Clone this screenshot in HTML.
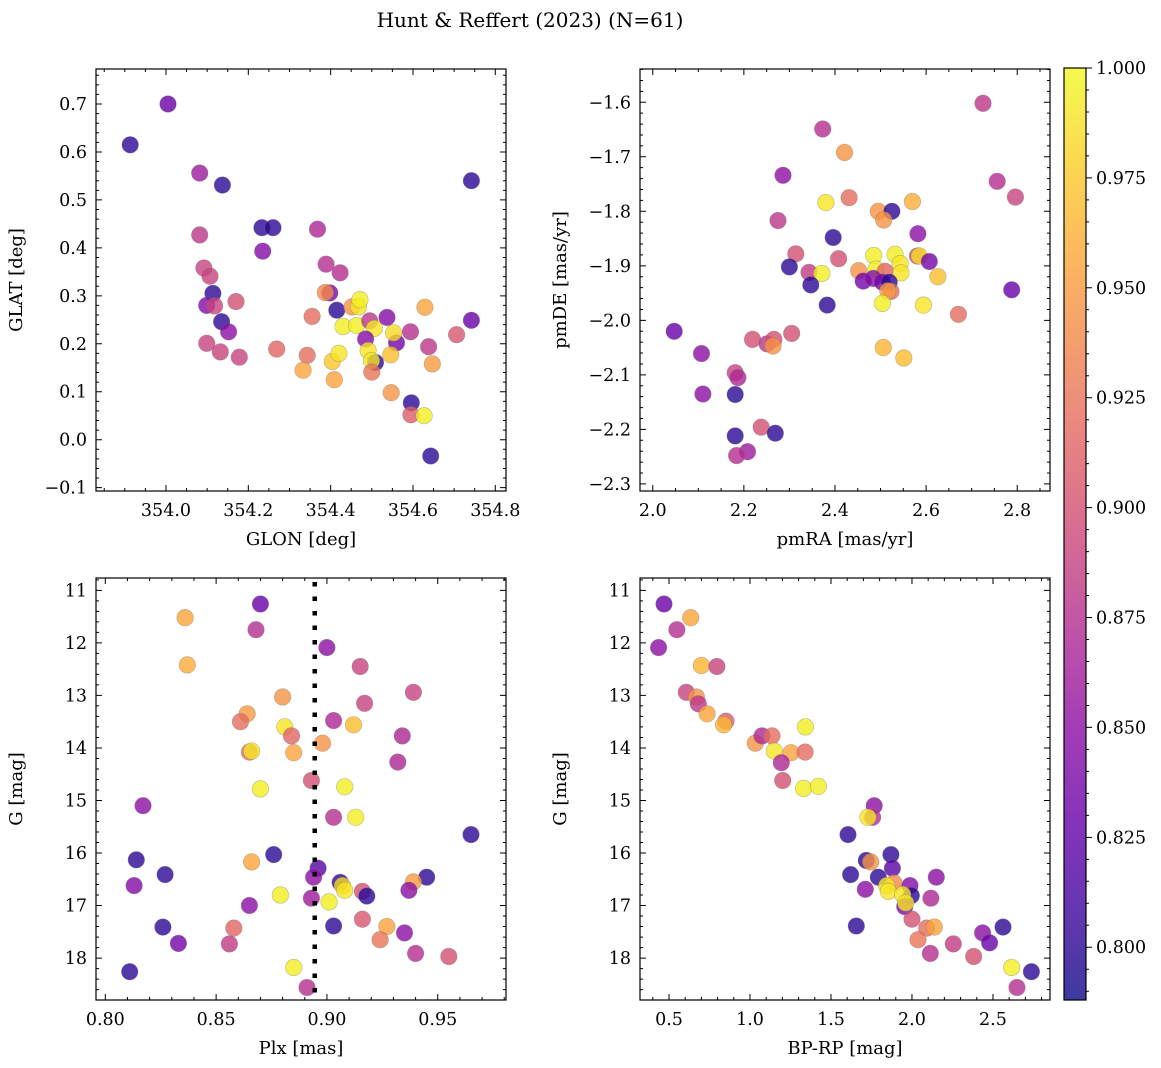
<!DOCTYPE html>
<html><head><meta charset="utf-8"><title>Hunt & Reffert (2023)</title>
<style>
body{margin:0;background:#fff;}
svg{display:block;font-family:"DejaVu Serif","Liberation Serif",serif;}
</style></head>
<body>
<svg id="fig" width="1161" height="1068" viewBox="0 0 1161 1068" xmlns="http://www.w3.org/2000/svg">
<text x="530" y="27" text-anchor="middle" font-size="20">Hunt &amp; Reffert (2023) (N=61)</text>
</svg>
<script>
// ---------- Panel 1: GLON vs GLAT ----------
const glon = [353.913,354.005,354.082,354.137,354.082,354.233,354.260,354.235,354.368,354.092,354.107,354.114,354.099,354.118,354.170,354.135,354.152,354.099,354.132,354.178,354.389,354.423,354.398,354.387,354.415,354.355,354.269,354.343,354.333,354.404,354.420,354.409,354.430,354.452,354.468,354.471,354.463,354.495,354.506,354.485,354.491,354.509,354.499,354.500,354.537,354.560,354.553,354.546,354.547,354.594,354.629,354.638,354.647,354.596,354.595,354.627,354.643,354.706,354.742,354.742];
const glat = [0.615,0.700,0.556,0.531,0.427,0.442,0.442,0.393,0.439,0.358,0.341,0.305,0.280,0.279,0.288,0.246,0.225,0.201,0.183,0.172,0.366,0.348,0.306,0.307,0.270,0.257,0.189,0.176,0.145,0.163,0.180,0.125,0.236,0.277,0.277,0.292,0.238,0.248,0.232,0.210,0.186,0.161,0.165,0.141,0.255,0.202,0.223,0.177,0.098,0.225,0.276,0.194,0.158,0.077,0.052,0.050,-0.034,0.219,0.249,0.540];
const prob1 = [0.80,0.83,0.86,0.80,0.88,0.80,0.80,0.845,0.87,0.89,0.89,0.80,0.845,0.89,0.90,0.80,0.85,0.89,0.89,0.89,0.875,0.875,0.84,0.94,0.80,0.92,0.915,0.92,0.955,0.975,0.99,0.955,0.995,0.945,0.99,0.995,0.995,0.88,0.99,0.845,0.99,0.80,0.99,0.925,0.845,0.835,0.985,0.97,0.945,0.875,0.955,0.88,0.95,0.80,0.91,0.995,0.80,0.905,0.83,0.80];

// ---------- Panel 2: pmRA vs pmDE ----------
const pmra = [2.725,2.373,2.421,2.286,2.756,2.796,2.431,2.380,2.570,2.495,2.525,2.507,2.275,2.582,2.396,2.314,2.408,2.485,2.532,2.581,2.585,2.607,2.543,2.300,2.343,2.371,2.452,2.490,2.510,2.545,2.626,2.462,2.484,2.504,2.519,2.523,2.516,2.347,2.504,2.383,2.594,2.788,2.671,2.047,2.506,2.551,2.107,2.219,2.251,2.266,2.264,2.305,2.181,2.187,2.110,2.181,2.238,2.269,2.181,2.208,2.184];
const pmde = [-1.602,-1.649,-1.692,-1.734,-1.745,-1.774,-1.775,-1.784,-1.782,-1.800,-1.800,-1.816,-1.817,-1.841,-1.848,-1.878,-1.887,-1.881,-1.879,-1.882,-1.882,-1.892,-1.896,-1.902,-1.912,-1.914,-1.909,-1.906,-1.910,-1.913,-1.920,-1.928,-1.923,-1.930,-1.930,-1.947,-1.946,-1.935,-1.969,-1.972,-1.972,-1.944,-1.989,-2.020,-2.050,-2.069,-2.061,-2.035,-2.043,-2.035,-2.047,-2.024,-2.096,-2.105,-2.135,-2.136,-2.196,-2.207,-2.212,-2.241,-2.248];
const prob2 = [0.88,0.875,0.945,0.85,0.875,0.89,0.92,0.99,0.96,0.945,0.80,0.945,0.88,0.85,0.80,0.90,0.90,0.995,0.995,0.90,0.985,0.835,0.99,0.80,0.885,0.995,0.945,0.995,0.915,0.99,0.97,0.835,0.845,0.835,0.80,0.92,0.95,0.80,0.995,0.80,0.99,0.83,0.92,0.83,0.965,0.97,0.85,0.90,0.88,0.90,0.945,0.90,0.89,0.87,0.85,0.80,0.90,0.80,0.80,0.86,0.875];

// ---------- Panel 3: Plx vs G ----------
const plx = [0.870,0.836,0.868,0.837,0.900,0.915,0.939,0.880,0.917,0.864,0.861,0.903,0.881,0.912,0.884,0.934,0.898,0.865,0.866,0.885,0.932,0.893,0.870,0.908,0.817,0.903,0.913,0.965,0.814,0.876,0.866,0.827,0.896,0.894,0.813,0.906,0.907,0.908,0.945,0.939,0.937,0.916,0.918,0.879,0.893,0.901,0.865,0.826,0.858,0.903,0.916,0.927,0.924,0.935,0.833,0.856,0.940,0.955,0.811,0.885,0.891];
const gmag3 = [11.26,11.52,11.75,12.42,12.09,12.45,12.94,13.03,13.15,13.35,13.50,13.48,13.60,13.56,13.77,13.77,13.91,14.08,14.06,14.09,14.27,14.62,14.78,14.74,15.10,15.32,15.32,15.65,16.13,16.03,16.17,16.41,16.29,16.46,16.62,16.56,16.62,16.71,16.46,16.55,16.71,16.73,16.82,16.80,16.86,16.93,17.00,17.41,17.43,17.39,17.26,17.40,17.65,17.52,17.72,17.73,17.91,17.97,18.26,18.18,18.56];
const prob3 = [0.83,0.955,0.875,0.96,0.85,0.89,0.89,0.945,0.89,0.95,0.92,0.87,0.99,0.97,0.915,0.87,0.945,0.92,0.99,0.955,0.87,0.90,0.995,0.995,0.85,0.875,0.995,0.80,0.80,0.80,0.955,0.80,0.82,0.85,0.845,0.80,0.985,0.99,0.80,0.95,0.85,0.90,0.80,0.995,0.86,0.995,0.85,0.80,0.915,0.80,0.905,0.955,0.925,0.85,0.835,0.885,0.875,0.90,0.80,0.995,0.875];

// ---------- Panel 4: BP-RP vs G ----------
const bprp = [0.469,0.634,0.549,0.436,0.700,0.796,0.607,0.669,0.681,0.735,0.852,0.837,1.033,1.074,1.136,1.150,1.253,1.340,1.342,1.193,1.202,1.331,1.422,1.767,1.757,1.728,1.605,1.870,1.718,1.745,1.879,1.621,1.792,2.150,1.889,1.988,1.844,1.854,1.712,1.996,1.942,2.117,1.955,1.961,2.000,1.656,2.091,2.138,2.037,2.255,2.113,2.381,2.436,2.479,2.562,2.615,2.737,2.648];
const gmag4 = [11.26,11.52,11.75,12.09,12.43,12.45,12.94,13.03,13.16,13.35,13.49,13.56,13.91,13.77,13.77,14.06,14.09,14.08,13.60,14.28,14.62,14.77,14.73,15.10,15.32,15.32,15.65,16.03,16.14,16.17,16.29,16.41,16.46,16.46,16.57,16.62,16.62,16.73,16.69,16.81,16.79,16.86,17.02,16.95,17.26,17.39,17.43,17.41,17.65,17.73,17.91,17.97,17.52,17.71,17.41,18.18,18.26,18.56];
const prob4 = [0.83,0.955,0.875,0.85,0.965,0.89,0.89,0.945,0.88,0.955,0.91,0.965,0.945,0.87,0.92,0.99,0.955,0.92,0.995,0.87,0.90,0.995,0.995,0.85,0.875,0.99,0.80,0.80,0.80,0.945,0.82,0.80,0.80,0.85,0.94,0.845,0.99,0.99,0.85,0.80,0.99,0.87,0.84,0.99,0.90,0.80,0.92,0.955,0.925,0.885,0.875,0.90,0.85,0.83,0.80,0.995,0.80,0.875];

// ---------- Colorbar ticks ----------
const cbTicks = [0.800,0.825,0.850,0.875,0.900,0.925,0.950,0.975,1.000];
const CMIN = 0.788, CMAX = 1.0;

const NS = "http://www.w3.org/2000/svg";
const svg = document.getElementById('fig');
function mk(tag, attrs, parent){
  const e = document.createElementNS(NS, tag);
  for (const k in attrs) e.setAttribute(k, attrs[k]);
  (parent||svg).appendChild(e);
  return e;
}
const stops = [[13,8,135],[65,4,157],[106,0,168],[143,13,164],[177,42,144],[204,71,120],[225,100,98],[242,132,75],[252,166,54],[252,206,37],[240,249,33]];
function plasma(t){
  t = Math.max(0, Math.min(1, t));
  const f = t*10, i = Math.min(9, Math.floor(f)), r = f - i;
  const a = stops[i], b = stops[i+1];
  return 'rgb(' + [0,1,2].map(k => Math.round(a[k] + (b[k]-a[k])*r)).join(',') + ')';
}
const TFS = 17.5, LFS = 18;

function panel(cfg){
  const {x0,y0,w,h,xmin,xmax,ymin,ymax,yinv,xmaj,xminor,ymaj,yminor,xfmt,yfmt,xlabel,ylabel,xs,ys,ps,name} = cfg;
  const X = v => x0 + (v - xmin)/(xmax - xmin)*w;
  const Y = v => yinv ? y0 + (v - ymin)/(ymax - ymin)*h : y0 + h - (v - ymin)/(ymax - ymin)*h;
  const g = mk('g', {});
  
  
  const pg = mk('g', {}, g);
  
  
  for (let i = 0; i < xs.length; i++){
    const c = mk('circle', {cx: X(xs[i]).toFixed(1), cy: Y(ys[i]).toFixed(1), r: 8.3, fill: plasma((ps[i]-CMIN)/(CMAX-CMIN)), 'fill-opacity': 0.8, stroke: '#777', 'stroke-opacity': 0.5, 'stroke-width': 0.6}, pg);
    
    
  }
  if (cfg.extra) cfg.extra(g, X, Y);
  const fr = mk('rect', {x: x0, y: y0, width: w, height: h, fill: 'none', stroke: '#000', 'stroke-width': 1.2}, g);
  
  
  const tk = [];
  const eps = 1e-9;
  for (let v = Math.ceil(xmin/xminor - eps)*xminor; v <= xmax + eps; v += xminor){
    const p = X(v); tk.push(`M${p},${y0+h}v-3M${p},${y0}v3`);
  }
  for (let v = Math.ceil(ymin/yminor - eps)*yminor; v <= ymax + eps; v += yminor){
    const p = Y(v); tk.push(`M${x0},${p}h3M${x0+w},${p}h-3`);
  }
  xmaj.forEach(v => {
    const p = X(v); tk.push(`M${p},${y0+h}v-6M${p},${y0}v6`);
    const t = mk('text', {x: p, y: y0 + h + 25, 'text-anchor': 'middle', 'font-size': TFS}, g);
    t.textContent = xfmt(v);
    
    
  });
  ymaj.forEach(v => {
    const p = Y(v); tk.push(`M${x0},${p}h6M${x0+w},${p}h-6`);
    const t = mk('text', {x: x0 - 9, y: p + 6, 'text-anchor': 'end', 'font-size': TFS}, g);
    t.textContent = yfmt(v);
    
    
  });
  const tp = mk('path', {d: tk.join(''), stroke: '#000', 'stroke-width': 1}, g);
  
  
  const xl = mk('text', {x: x0 + w/2, y: y0 + h + 54, 'text-anchor': 'middle', 'font-size': LFS}, g);
  xl.textContent = xlabel;
  
  
  const yx = x0 - 74, yy = y0 + h/2;
  const yl = mk('text', {x: yx, y: yy, 'text-anchor': 'middle', 'font-size': LFS, transform: `rotate(-90 ${yx} ${yy})`}, g);
  yl.textContent = ylabel;
  
  
}
const minus = s => s.replace('-', '\u2212');
const range = (a, b, s) => { const r = []; for (let v = a; v <= b + 1e-9; v += s) r.push(+v.toFixed(6)); return r; };

panel({name: 'glon-glat-panel', x0: 96, y0: 69, w: 410, h: 422, xmin: 353.830, xmax: 354.826, ymin: -0.107, ymax: 0.773,
  xmaj: range(354.0, 354.8, 0.2), xminor: 0.05, ymaj: range(-0.1, 0.7, 0.1), yminor: 0.02,
  xfmt: v => v.toFixed(1), yfmt: v => minus(v.toFixed(1)), xlabel: 'GLON [deg]', ylabel: 'GLAT [deg]', xs: glon, ys: glat, ps: prob1});
panel({name: 'pm-panel', x0: 640, y0: 69, w: 410, h: 422, xmin: 1.972, xmax: 2.872, ymin: -2.313, ymax: -1.539,
  xmaj: range(2.0, 2.8, 0.2), xminor: 0.05, ymaj: range(-2.3, -1.6, 0.1), yminor: 0.02,
  xfmt: v => v.toFixed(1), yfmt: v => minus(v.toFixed(1)), xlabel: 'pmRA [mas/yr]', ylabel: 'pmDE [mas/yr]', xs: pmra, ys: pmde, ps: prob2});
panel({name: 'plx-g-panel', x0: 96, y0: 578, w: 410, h: 422, xmin: 0.7958, xmax: 0.9808, ymin: 10.765, ymax: 18.798, yinv: true,
  xmaj: range(0.80, 0.95, 0.05), xminor: 0.01, ymaj: range(11, 18, 1), yminor: 0.2,
  xfmt: v => v.toFixed(2), yfmt: v => v.toFixed(0), xlabel: 'Plx [mas]', ylabel: 'G [mag]', xs: plx, ys: gmag3, ps: prob3,
  extra: (g, X, Y) => {
    const l = mk('line', {x1: X(0.8945), x2: X(0.8945), y1: 582, y2: 1000, stroke: '#000', 'stroke-width': 4.5, 'stroke-dasharray': '4.5 10'}, g);
    
    
  }});
panel({name: 'cmd-panel', x0: 640, y0: 578, w: 410, h: 422, xmin: 0.321, xmax: 2.852, ymin: 10.765, ymax: 18.798, yinv: true,
  xmaj: range(0.5, 2.5, 0.5), xminor: 0.1, ymaj: range(11, 18, 1), yminor: 0.2,
  xfmt: v => v.toFixed(1), yfmt: v => v.toFixed(0), xlabel: 'BP-RP [mag]', ylabel: 'G [mag]', xs: bprp, ys: gmag4, ps: prob4});

// colorbar
(function(){
  const cx = 1064, cy = 68, cw = 22, ch = 932;
  const g = mk('g', {});
  
  
  const defs = mk('defs', {}, g);
  const lg = mk('linearGradient', {id: 'cbg', x1: 0, y1: 1, x2: 0, y2: 0}, defs);
  for (let i = 0; i <= 20; i++) mk('stop', {offset: i/20, 'stop-color': plasma(i/20), 'stop-opacity': 0.8}, lg);
  const r = mk('rect', {x: cx, y: cy, width: cw, height: ch, fill: 'url(#cbg)', stroke: '#000', 'stroke-width': 1.2}, g);
  
  
  const CY = v => cy + ch - (v - CMIN)/(CMAX - CMIN)*ch;
  const d = [];
  for (let v = 0.790; v <= 1.0001; v += 0.005) d.push(`M${cx+cw},${CY(v)}h3`);
  cbTicks.forEach(v => {
    d.push(`M${cx+cw},${CY(v)}h6`);
    const t = mk('text', {x: cx + cw + 10, y: CY(v) + 6, 'font-size': TFS}, g);
    t.textContent = v.toFixed(3);
    
    
  });
  const p = mk('path', {d: d.join(''), stroke: '#000', 'stroke-width': 1}, g);
  
  
})();
</script>
</body></html>
